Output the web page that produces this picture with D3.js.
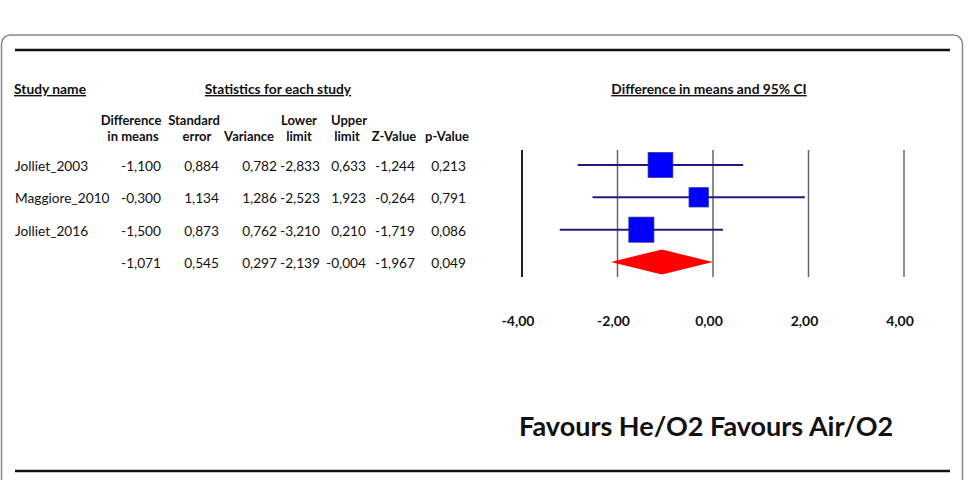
<!DOCTYPE html>
<html>
<head>
<meta charset="utf-8">
<script src="https://cdn.jsdelivr.net/npm/d3@7"></script>
<style>
  body { margin: 0; background: #fff; }
  svg { display: block; }
  text { font-family: Lato, "Open Sans", sans-serif; fill: #111; }
  .hdr { font-weight: bold; font-size: 13.8px; }
  .col-hdr { font-weight: bold; font-size: 13px; }
  .cell { font-size: 13.7px; }
  .tick-lbl { font-weight: bold; font-size: 14px; }
</style>
</head>
<body>
<div id="chart"></div>
<script>
// study data
const studies   = ["Jolliet_2003", "Maggiore_2010", "Jolliet_2016", ""];
const diffMeans = [-1.100, -0.300, -1.500, -1.071];
const stdErr    = [0.884, 1.134, 0.873, 0.545];
const variance  = [0.782, 1.286, 0.762, 0.297];
const lowerLim  = [-2.833, -2.523, -3.210, -2.139];
const upperLim  = [0.633, 1.923, 0.210, -0.004];
const zValue    = [-1.244, -0.264, -1.719, -1.967];
const pValue    = [0.213, 0.791, 0.086, 0.049];
const isSummary = [false, false, false, true];
const axisTicks = [-4, -2, 0, 2, 4];

const width = 971, height = 480;

const svg = d3.select("#chart").append("svg")
    .attr("width", width)
    .attr("height", height);

// frame + rules
svg.append("rect")
    .attr("x", 1.5).attr("y", 35).attr("width", 961).attr("height", 470)
    .attr("rx", 9).attr("fill", "none")
    .attr("stroke", "#888").attr("stroke-width", 1.5);
svg.append("line").attr("x1", 15).attr("x2", 950).attr("y1", 50).attr("y2", 50)
    .attr("stroke", "#111").attr("stroke-width", 2.5);
svg.append("line").attr("x1", 15).attr("x2", 950).attr("y1", 471).attr("y2", 471)
    .attr("stroke", "#111").attr("stroke-width", 2.5);

// section titles
function underlined(x, y, txt, anchor) {
    return svg.append("text").attr("class", "hdr")
        .attr("x", x).attr("y", y)
        .attr("text-anchor", anchor || "start")
        .style("text-decoration", "underline")
        .text(txt);
}
underlined(14, 94, "Study name");
underlined(278, 94, "Statistics for each study", "middle");
underlined(709, 94, "Difference in means and 95% CI", "middle");

// column headers
const columns = [
    {vals: diffMeans, right: 161, h1: "Difference", h1x: 131, h2: "in means", h2x: 133},
    {vals: stdErr,    right: 219, h1: "Standard",   h1x: 194, h2: "error",    h2x: 197},
    {vals: variance,  right: 277, h1: "",           h1x: 0,   h2: "Variance", h2x: 249},
    {vals: lowerLim,  right: 320, h1: "Lower",      h1x: 299, h2: "limit",    h2x: 299},
    {vals: upperLim,  right: 366, h1: "Upper",      h1x: 349, h2: "limit",    h2x: 347},
    {vals: zValue,    right: 415, h1: "",           h1x: 0,   h2: "Z-Value",  h2x: 394},
    {vals: pValue,    right: 466, h1: "",           h1x: 0,   h2: "p-Value",  h2x: 447}
];

columns.forEach(c => {
    if (c.h1) svg.append("text").attr("class", "col-hdr").attr("x", c.h1x).attr("y", 125)
        .attr("text-anchor", "middle").text(c.h1);
    svg.append("text").attr("class", "col-hdr").attr("x", c.h2x).attr("y", 141)
        .attr("text-anchor", "middle").text(c.h2);
});

// row positions
const y = d3.scalePoint().domain(d3.range(studies.length)).range([165, 262]);

// number format with comma decimals
const fmt = v => d3.format(".3f")(v).replace("−", "-").replace(".", ",");

// table rows
studies.forEach((s, i) => {
    svg.append("text").attr("class", "cell").attr("x", 15).attr("y", y(i) + 6).text(s);
    columns.forEach(c => {
        svg.append("text").attr("class", "cell")
            .attr("x", c.right).attr("y", y(i) + 6)
            .attr("text-anchor", "end")
            .text(fmt(c.vals[i]));
    });
});

// forest plot
const x = d3.scaleLinear().domain([-4, 4]).range([522, 904]);

const plot = svg.append("g");

plot.selectAll(".grid").data(axisTicks).enter().append("line")
    .attr("class", "grid")
    .attr("x1", d => x(d)).attr("x2", d => x(d))
    .attr("y1", 150).attr("y2", 277)
    .attr("stroke", d => d === -4 ? "#222" : "#666")
    .attr("stroke-width", d => d === -4 ? 2 : 1.5);

plot.selectAll(".tick-lbl").data(axisTicks).enter().append("text")
    .attr("class", "tick-lbl")
    .attr("x", d => x(d) - 4).attr("y", 326)
    .attr("text-anchor", "middle")
    .text(d => d3.format(".2f")(d).replace("−", "-").replace(".", ","));

// square size by inverse-variance weight
const weights = variance.map(v => 1 / v);
const studyIdx = d3.range(studies.length).filter(i => !isSummary[i]);
const size = d3.scaleSqrt()
    .domain([0, d3.max(studyIdx, i => weights[i])])
    .range([0, 25]);

studyIdx.forEach(i => {
    plot.append("line")
        .attr("x1", x(lowerLim[i])).attr("x2", x(upperLim[i]))
        .attr("y1", y(i)).attr("y2", y(i))
        .attr("stroke", "#1c1c80").attr("stroke-width", 2);
    let s = size(weights[i]);
    plot.append("rect")
        .attr("x", x(diffMeans[i]) - s / 2).attr("y", y(i) - s / 2)
        .attr("width", s).attr("height", s)
        .attr("fill", "#0000ff").attr("stroke", "#2020a0").attr("stroke-width", 0.8);
});

d3.range(studies.length).filter(i => isSummary[i]).forEach(i => {
    let h = 12.5;
    plot.append("path")
        .attr("d", `M${x(lowerLim[i])},${y(i)} L${x(diffMeans[i])},${y(i) - h} L${x(upperLim[i])},${y(i)} L${x(diffMeans[i])},${y(i) + h} Z`)
        .attr("fill", "#ff0000");
});

// favours label
svg.append("text")
    .attr("x", 519).attr("y", 436)
    .style("font-weight", "bold").style("font-size", "27px")
    .text("Favours He/O2 Favours Air/O2");
</script>
</body>
</html>
